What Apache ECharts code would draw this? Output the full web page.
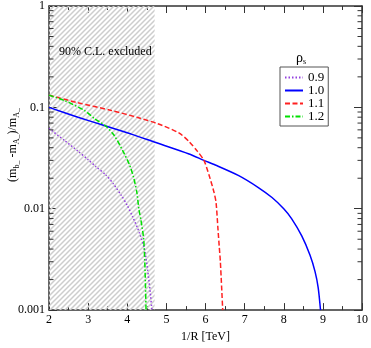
<!DOCTYPE html>
<html>
<head>
<meta charset="utf-8">
<script src="https://cdn.jsdelivr.net/npm/echarts@6/dist/echarts.min.js"></script>
<style>
  html, body { margin: 0; padding: 0; background: #fff; }
  #chart { width: 371px; height: 348px; }
</style>
</head>
<body>
<div id="chart"></div>
<script>
var myChart = echarts.init(document.getElementById('chart'));

// curves: [1/R, (m_b - m_A)/m_A]
var rho09 = [[2, 0.062], [2.4, 0.047], [2.74, 0.037], [3.0, 0.0305], [3.2, 0.026], [3.45, 0.0216],
  [3.65, 0.0175], [3.85, 0.0135], [4.0, 0.0108], [4.14, 0.0083], [4.31, 0.0058], [4.44, 0.0040],
  [4.52, 0.0025], [4.58, 0.0016], [4.63, 0.001]];
var rho10 = [[2, 0.1], [2.74, 0.08], [3.45, 0.0655], [4.1, 0.0545], [4.69, 0.0455], [5.58, 0.0347],
  [5.96, 0.030], [6.25, 0.027], [6.85, 0.0212], [7.36, 0.0161], [7.7, 0.0129], [8.0, 0.01], [8.2, 0.008],
  [8.46, 0.0054], [8.67, 0.0035], [8.8, 0.0024], [8.88, 0.00167], [8.94, 0.001]];
var rho11 = [[2, 0.132], [2.74, 0.111], [3.59, 0.0933], [4.27, 0.0794], [4.78, 0.069], [5.32, 0.056],
  [5.58, 0.046], [5.79, 0.037], [5.96, 0.030], [6.09, 0.0215], [6.22, 0.0144], [6.27, 0.0115],
  [6.32, 0.0062], [6.35, 0.0043], [6.38, 0.003], [6.44, 0.001]];
var rho12 = [[2, 0.132], [2.41, 0.116], [2.91, 0.093], [3.17, 0.077], [3.45, 0.0655], [3.68, 0.052],
  [3.89, 0.037], [4.06, 0.027], [4.16, 0.0205], [4.24, 0.0149], [4.30, 0.0098], [4.35, 0.0077],
  [4.42, 0.005], [4.456, 0.0024], [4.48, 0.001]];

var seriesNames = ['0.9', '1.0', '1.1', '1.2'];
var excludedUpTo = 4.7;
var yMinor = [0.002, 0.003, 0.004, 0.005, 0.006, 0.007, 0.008, 0.009,
  0.02, 0.03, 0.04, 0.05, 0.06, 0.07, 0.08, 0.09,
  0.2, 0.3, 0.4, 0.5, 0.6, 0.7, 0.8, 0.9];

// hatch pattern for the excluded band
var hatch = document.createElement('canvas');
hatch.width = 5; hatch.height = 5;
var hc = hatch.getContext('2d');
hc.strokeStyle = '#cdcdcd';
hc.lineWidth = 1.5;
hc.beginPath();
hc.moveTo(-1, 1); hc.lineTo(1, -1);
hc.moveTo(0, 5); hc.lineTo(5, 0);
hc.moveTo(4, 6); hc.lineTo(6, 4);
hc.stroke();

var serif = 'Liberation Serif';
var axisColor = '#333';

function xAx(pos, labels) {
  return {
    type: 'value', position: pos, min: 2, max: 10, interval: 1,
    axisLine: { show: true, onZero: false, lineStyle: { color: axisColor, width: 1.5 } },
    axisTick: { show: true, inside: true, length: 7, lineStyle: { color: axisColor } },
    minorTick: { show: true, splitNumber: 2, length: 4, lineStyle: { color: axisColor } },
    axisLabel: { show: labels, color: '#000', fontFamily: serif, fontSize: 12, margin: 4 },
    splitLine: { show: false },
    name: labels ? '1/R [TeV]' : '', nameLocation: 'middle', nameGap: 17,
    nameTextStyle: { color: '#000', fontFamily: serif, fontSize: 12 }
  };
}
function yAx(pos, labels) {
  return {
    type: 'log', logBase: 10, position: pos, min: 0.001, max: 1,
    axisLine: { show: true, onZero: false, lineStyle: { color: axisColor, width: 1.5 } },
    axisTick: { show: true, inside: true, length: 8, lineStyle: { color: axisColor } },
    axisLabel: {
      show: labels, color: '#000', fontFamily: serif, fontSize: 12, margin: 4,
      formatter: function (v) { return String(+v.toPrecision(3)); }
    },
    splitLine: { show: false }
  };
}

var curveSmooth = 0.25;

var option = {
  animation: false,
  backgroundColor: '#fff',
  grid: { left: 49, right: 7, top: 5, bottom: 28 },
  xAxis: [xAx('bottom', true), xAx('top', false)],
  yAxis: [yAx('left', true), yAx('right', false)],
  legend: {
    orient: 'vertical', left: 280, top: 67,
    data: seriesNames,
    itemWidth: 18, itemHeight: 10, itemGap: 0, itemTextGap: 7,
    padding: [4, 4, 3, 4],
    borderColor: '#555', borderWidth: 1,
    itemStyle: { opacity: 0 },
    textStyle: { color: '#000', fontFamily: serif, fontSize: 13, lineHeight: 12 }
  },
  graphic: [
    { type: 'text', x: 59, y: 52, z: 50,
      style: { text: '90% C.L. excluded', fill: '#000', font: '12px "Liberation Serif"',
        textAlign: 'left', textVerticalAlign: 'middle' } },
    { type: 'text', x: 301, y: 58, z: 50,
      style: { text: 'ρ{s|s}', fill: '#000', font: '14px "Liberation Serif"',
        textAlign: 'center', textVerticalAlign: 'middle',
        rich: { s: { fontSize: 8, fontFamily: serif, padding: [7, 0, 0, 0], verticalAlign: 'bottom' } } } },
    { type: 'text', x: 13, y: 145, rotation: Math.PI / 2, z: 50,
      style: { text: '(m{s|b_} -m{s|A_})/m{s|A_}', fill: '#000', font: '12px "Liberation Serif"',
        textAlign: 'center', textVerticalAlign: 'middle',
        rich: { s: { fontSize: 8, fontFamily: serif, padding: [7, 0, 0, 0], verticalAlign: 'bottom' } } } }
  ],
  series: [
    { type: 'line', name: 'band', data: [], z: 1, silent: true,
      markArea: { silent: true, itemStyle: { color: { image: hatch, repeat: 'repeat' } },
        data: [[{ xAxis: 2, yAxis: 0.001 }, { xAxis: excludedUpTo, yAxis: 1 }]] } },
    { type: 'custom', name: 'minor', z: 3, silent: true,
      data: yMinor.map(function (v) { return [2, v]; }),
      renderItem: function (params, api) {
        var cs = params.coordSys;
        var y = api.coord([2, api.value(1)])[1];
        var st = { stroke: axisColor, lineWidth: 1 };
        return { type: 'group', children: [
          { type: 'line', shape: { x1: cs.x, y1: y, x2: cs.x + 4.5, y2: y }, style: st },
          { type: 'line', shape: { x1: cs.x + cs.width - 4.5, y1: y, x2: cs.x + cs.width, y2: y }, style: st }
        ] };
      } },
    { type: 'line', name: '0.9', data: rho09, symbol: 'none', z: 2, smooth: curveSmooth,
      lineStyle: { color: '#9440e0', width: 1.5, type: [1.5, 2] }, itemStyle: { color: '#9440e0' } },
    { type: 'line', name: '1.0', data: rho10, symbol: 'none', z: 2, smooth: curveSmooth,
      lineStyle: { color: '#0000ff', width: 1.5, type: 'solid' }, itemStyle: { color: '#0000ff' } },
    { type: 'line', name: '1.1', data: rho11, symbol: 'none', z: 2, smooth: curveSmooth,
      lineStyle: { color: '#ff2020', width: 1.5, type: [5, 2.5] }, itemStyle: { color: '#ff2020' } },
    { type: 'line', name: '1.2', data: rho12, symbol: 'none', z: 2, smooth: curveSmooth,
      lineStyle: { color: '#00e000', width: 1.5, type: [5, 2, 1.5, 2] }, itemStyle: { color: '#00e000' } }
  ]
};

myChart.setOption(option);
</script>
</body>
</html>
